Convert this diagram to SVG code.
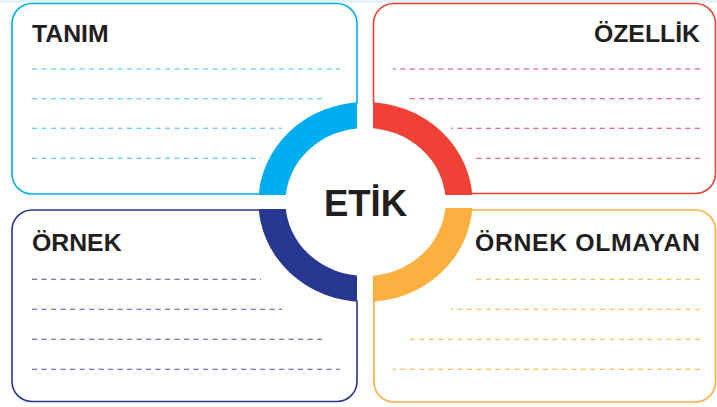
<svg xmlns="http://www.w3.org/2000/svg" width="717" height="407" viewBox="0 0 717 407">
<style>
.box{fill:#fff;stroke-width:1.6}
.t{font-family:"Liberation Sans",Arial,sans-serif;font-weight:bold;font-size:24.8px;fill:#231f20}
.d{fill:none;stroke-width:1.1;stroke-dasharray:5.2 4.3}
</style>
<defs>
<path id="ring" fill-rule="evenodd" d="M258.5 202a107 100 0 1 0 214 0a107 100 0 1 0 -214 0ZM285.5 202a80 74 0 1 0 160 0a80 74 0 1 0 -160 0Z"/>
<clipPath id="cTL"><rect x="0" y="0" width="357" height="195"/></clipPath>
<clipPath id="cTR"><rect x="373" y="0" width="344" height="195"/></clipPath>
<clipPath id="cBL"><rect x="0" y="209" width="357" height="198"/></clipPath>
<clipPath id="cBR"><rect x="373" y="208" width="344" height="199"/></clipPath>
</defs>
<rect x="0" y="0" width="717" height="3" fill="#e3f4fb"/>
<g id="tanim">
<rect class="box" x="12" y="3.5" width="345" height="190.5" rx="20" stroke="#00aeef"/>
<text class="t" x="32" y="41.5">TANIM</text>
<g class="d" stroke="#3ec1ee">
<path d="M32 69H340M32 98.7H326M32 128.3H282M32 158.3H261"/>
</g>
</g>
<g id="ozellik">
<rect class="box" x="373.5" y="3.5" width="342" height="190" rx="20" stroke="#ef4136"/>
<text class="t" x="700" y="41.5" text-anchor="end">ÖZELLİK</text>
<g class="d" stroke="#d9475a">
<path d="M700 69H392.7M700 98.7H407M700 128.3H451.3M700 158.3H472"/>
</g>
</g>
<g id="ornek">
<rect class="box" x="12" y="210" width="345" height="191.5" rx="20" stroke="#283891"/>
<text class="t" x="32" y="251">ÖRNEK</text>
<g class="d" stroke="#4b55a0">
<path d="M32 279.3H261M32 309.3H282M32 339.3H326M32 369.3H340"/>
</g>
</g>
<g id="ornek-olmayan">
<rect class="box" x="374" y="210" width="341.5" height="192" rx="20" stroke="#fbb040"/>
<text class="t" x="700" y="251" text-anchor="end" textLength="225" lengthAdjust="spacing">ÖRNEK OLMAYAN</text>
<g class="d" stroke="#fbb040">
<path d="M700 279.3H472M700 309.3H451.3M700 339.3H407M700 369.3H392.7"/>
</g>
</g>
<g id="etik">
<ellipse cx="365.5" cy="202" rx="106" ry="99" fill="#fff"/>
<use href="#ring" fill="#00aeef" clip-path="url(#cTL)"/>
<use href="#ring" fill="#ef4136" clip-path="url(#cTR)"/>
<use href="#ring" fill="#283891" clip-path="url(#cBL)"/>
<use href="#ring" fill="#fbb040" clip-path="url(#cBR)"/>
<text x="365.5" y="216" text-anchor="middle" font-family="Liberation Sans,Arial,sans-serif" font-weight="bold" font-size="36.5" fill="#231f20">ETİK</text>
</g>
<g id="connectors"/>
</svg>
